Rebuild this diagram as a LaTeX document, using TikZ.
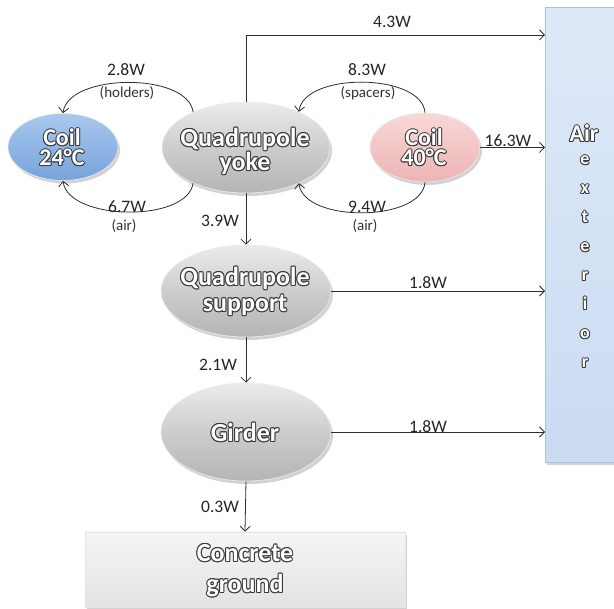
\documentclass[tikz,border=0pt]{standalone}
\usepackage{fontspec}
\setmainfont{Carlito}
\usepackage{contour}
\contourlength{1pt}
\contournumber{8}
\usetikzlibrary{arrows.meta,shapes.geometric,shadows}
\definecolor{lineC}{RGB}{45,45,45}
\definecolor{grayTop}{RGB}{235,235,235}
\definecolor{grayMid}{RGB}{205,205,205}
\definecolor{grayBot}{RGB}{180,180,180}
\definecolor{blueTop}{RGB}{168,200,238}
\definecolor{blueBot}{RGB}{118,163,218}
\definecolor{pinkTop}{RGB}{250,215,215}
\definecolor{pinkBot}{RGB}{235,180,180}
\definecolor{airTop}{RGB}{222,233,248}
\definecolor{airBot}{RGB}{202,219,242}
\definecolor{airEdge}{RGB}{170,195,228}
\newcommand{\wart}[1]{{\color{white}\contour{black!78}{#1}}}
\tikzset{
  blob/.style={ellipse, inner sep=0pt, draw=white!85!gray, line width=0.6pt,
    drop shadow={shadow xshift=2pt, shadow yshift=-3pt, opacity=0.35}},
  grayblob/.style={blob, top color=grayTop, bottom color=grayBot, middle color=grayMid},
  bigtxt/.style={align=center, font=\bfseries\fontsize{26}{24}\selectfont, inner sep=0pt},
  coiltxt/.style={align=center, font=\bfseries\fontsize{24}{20}\selectfont, inner sep=0pt},
  lbl/.style={font=\fontsize{17.5}{20}\selectfont, text=black!85, inner sep=0pt},
  sublbl/.style={font=\fontsize{15}{17}\selectfont, text=black!80, inner sep=0pt},
  flow/.style={draw=lineC, line width=0.8pt, -{Straight Barb[length=5pt,width=10pt]}},
  letter/.style={font=\bfseries\fontsize{18}{20}\selectfont, anchor=base, inner sep=0pt}
}
\begin{document}
\begin{tikzpicture}[x=1pt,y=-1pt]
\useasboundingbox (0,0) rectangle (614,609);
\clip (0,0) rectangle (614,609);
\fill[white] (0,0) rectangle (614,609);

% Air exterior box
\node[anchor=north west, minimum width=85pt, minimum height=455pt, inner sep=0pt,
  top color=airTop, bottom color=airBot, draw=airEdge, line width=0.6pt,
  drop shadow={shadow xshift=2pt, shadow yshift=-3pt, opacity=0.35}] (air) at (545,7) {};
\node[letter, font=\bfseries\fontsize{24}{26}\selectfont] (airT) at (584,142) {\wart{Air}};
\foreach \ch [count=\i] in {e,x,t,e,r,i,o,r}{
  \node[letter] (airL\i) at (585,136+29*\i) {\wart{\ch}};
}

% Concrete ground
\node[minimum width=320pt, minimum height=75pt, inner sep=0pt,
  top color=white!92!gray, bottom color=gray!22, draw=white!80!gray, line width=0.6pt,
  drop shadow={shadow xshift=2pt, shadow yshift=-3pt, opacity=0.35}] (ground) at (245,569.5) {};
\node[bigtxt, font=\bfseries\fontsize{26}{31}\selectfont] (groundT) at (245,571) {\wart{Concrete}\\\wart{ground}};

% Ellipses
\node[blob, top color=blueTop, bottom color=blueBot, minimum width=110pt, minimum height=67pt] (coilA) at (63,147) {};
\node[coiltxt] (coilAT) at (62,148) {\wart{Coil}\\\wart{24°C}};

\node[grayblob, minimum width=168pt, minimum height=91pt] (yoke) at (246,147.5) {};
\node[bigtxt] (yokeT) at (245,152) {\wart{Quadrupole}\\\wart{yoke}};

\node[blob, top color=pinkTop, bottom color=pinkBot, minimum width=110pt, minimum height=69pt] (coilB) at (425,147.5) {};
\node[coiltxt] (coilBT) at (424,148) {\wart{Coil}\\\wart{40°C}};

\node[grayblob, minimum width=170pt, minimum height=92pt] (support) at (246,291) {};
\node[bigtxt, font=\bfseries\fontsize{26}{26}\selectfont] (supportT) at (245,292) {\wart{Quadrupole}\\\wart{support}};

\node[grayblob, minimum width=170pt, minimum height=98pt] (girder) at (246,432) {};
\node[bigtxt] (girderT) at (245,433) {\wart{Girder}};

% Connectors
\coordinate (c43) at (air.west |- 0,35);
\draw[flow] (yoke.north) |- (c43);
\draw[flow] (coilB.east) -- (coilB.east -| air.west);
\draw[flow] (support.east) -- (support.east -| air.west);
\draw[flow] (girder.east) -- (girder.east -| air.west);
\draw[flow] (yoke.south) -- (support.north);
\draw[flow] (support.south) -- (girder.north);
\draw[flow] (girder.south) -- (ground.north);

\draw[flow] (yoke.146) .. controls +(-6,-40) and +(5,-40) .. (coilA.north);
\draw[flow] (yoke.214) .. controls +(-6,40) and +(5,40) .. (coilA.south);
\draw[flow] (coilB.north) .. controls +(-3,-40) and +(5,-40) .. (yoke.34);
\draw[flow] (coilB.south) .. controls +(-3,40) and +(5,40) .. (yoke.-34);

% Labels
\node[lbl] (l43) at (392,22) {4.3W};
\node[lbl] (l28) at (126,70) {2.8W};
\node[sublbl] (lhold) at (127,93) {(holders)};
\node[lbl] (l67) at (127,207) {6.7W};
\node[sublbl] (lairA) at (124,226) {(air)};
\node[lbl] (l83) at (367,70) {8.3W};
\node[sublbl] (lspac) at (368,93) {(spacers)};
\node[lbl] (l94) at (367,207) {9.4W};
\node[sublbl] (lairB) at (365,226) {(air)};
\node[lbl] (l163) at (508,141) {16.3W};
\node[lbl] (l39) at (220,221) {3.9W};
\node[lbl] (l18a) at (428,283) {1.8W};
\node[lbl] (l21) at (218,365) {2.1W};
\node[lbl] (l18b) at (428,427) {1.8W};
\node[lbl] (l03) at (220,507) {0.3W};
\end{tikzpicture}
\end{document}
